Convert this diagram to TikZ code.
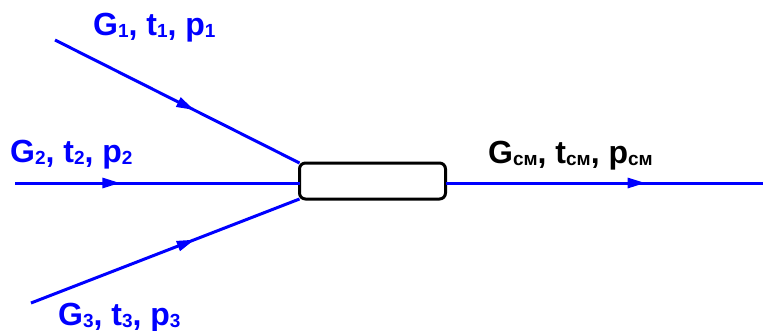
\documentclass[tikz,border=0pt]{standalone}
\usepackage{fontspec}
\setmainfont{Liberation Sans}
\usetikzlibrary{arrows.meta,decorations.markings}
\definecolor{flowblue}{RGB}{0,0,255}
\newcommand{\sbs}[1]{\raisebox{-2pt}{\fontsize{19}{19}\selectfont #1}}
\tikzset{
  flow/.style={draw=flowblue,line width=3pt},
  midarrow/.style={postaction={decorate},decoration={markings,
     mark=at position #1 with {\arrow[flowblue]{Triangle[length=18pt,width=10pt]}}}},
  lbl/.style={anchor=base west,inner sep=0pt,font=\fontsize{32}{34}\selectfont\bfseries},
  mixer/.style={draw=black,line width=3pt,rounded corners=6pt,minimum width=146pt,minimum height=36pt,outer sep=0pt,inner sep=0pt}
}
\begin{document}
\begin{tikzpicture}[x=1pt,y=-1pt]
\useasboundingbox (0,0) rectangle (763,330);
\node[mixer] (box) at (372.5,181) {};
\coordinate (s1) at (55,40);
\coordinate (s2) at (15,183);
\coordinate (s3) at (31,303);
\coordinate (e) at (763,183);
\draw[flow,midarrow=0.57] (s1) -- (box.north west);
\draw[flow,midarrow=0.37] (s2) -- (s2 -| box.west);
\draw[flow,midarrow=0.61] (s3) -- (box.south west);
\draw[flow,midarrow=0.63] (box.east |- e) -- (e);
\node[lbl,text=flowblue] (l1) at (93,35) {G\sbs{1}, t\sbs{1}, p\sbs{1}};
\node[lbl,text=flowblue] (l2) at (10,162) {G\sbs{2}, t\sbs{2}, p\sbs{2}};
\node[lbl,text=flowblue] (l3) at (58,325) {G\sbs{3}, t\sbs{3}, p\sbs{3}};
\node[lbl,text=black] (l4) at (488,163) {G\sbs{см}, t\sbs{см}, p\sbs{см}};
\end{tikzpicture}
\end{document}
